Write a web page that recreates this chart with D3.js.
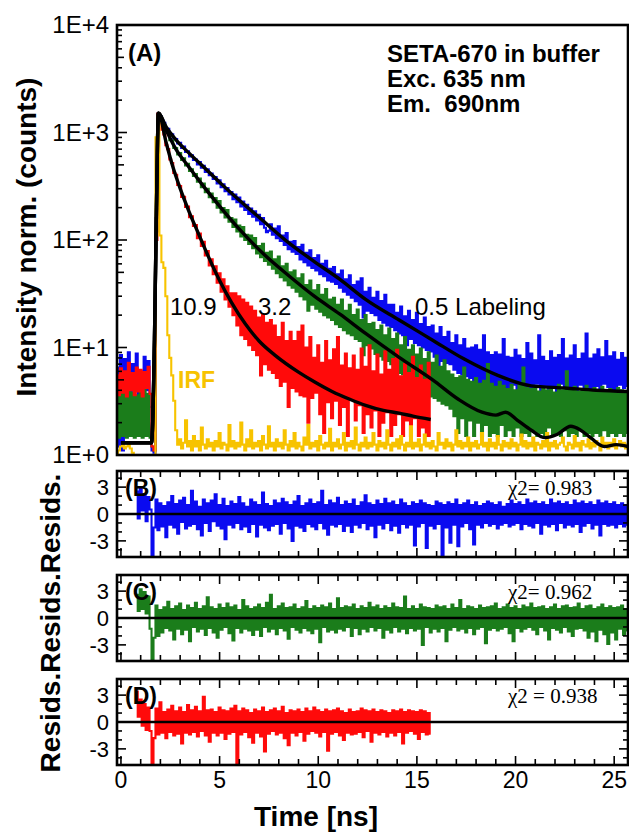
<!DOCTYPE html>
<html><head><meta charset="utf-8">
<script src="https://cdn.jsdelivr.net/npm/d3@7"></script>
<style>
body{margin:0;background:#fff}
svg{display:block}
text{font-family:"Liberation Sans",Arial,Helvetica,sans-serif}
</style>
</head><body>
<svg id="chart" width="629" height="835"></svg>
<script>
// ---------------- DATA ----------------
const channelWidth = 0.1;      // ns per channel
const decayStart = -0.2;       // time of first decay channel (ns)
const residStart = 0.8;        // time of first residual channel (ns)

const blueCounts = [6.5,1.2,8.5,1.1,7.8,5.0,9.0,2.2,7.0,4.5,8.8,3.5,6.0,1.6,8.2,4.0,7.5,2.8,1.1,
1.05,160,1500,
1420,1300,1230,1090,1080,970,960,880,
870,790,800,720,740,660,670,600,615,555,
560,505,530,470,490,430,455,400,415,370,
385,335,360,310,330,285,305,265,280,240,
265,225,248,205,228,190,213,175,196,165,
185,152,172,140,160,130,118,122,140,112,
128,104,134,98,110,90,116,82,96,78,
98,74,86,66,90,62,76,58,80,55,
68,52,72,48,60,46,64,42,54,41,
56,39,48,36,52,33,43,31,47,29,
38,27,41,25,44,19,33,22,36,21,
29,20,33,18,27,17,31,16,25,15.5,
25,14.5,21,13.5,24,13,19.5,10.5,22,12,
18,11,21,10.5,16.5,10,19,9.5,15.5,9.2,
16,8.2,13.5,6.2,15.5,7.5,12.5,7.2,14,7,
11,6.2,13,5.8,10.5,5.6,12,5.4,9.8,5.2,
10,5,10.5,4.6,9.5,4.5,13,4.3,9,4.2,
8.5,4.2,9,3.9,8.6,4.0,12,4.1,8.2,3.8,
8.0,4.5,9.5,4.0,8.4,4.4,7.8,3.9,11,4.2,
8.8,4.1,7.6,4.6,13,4.0,8.2,4.3,7.5,3.8,
9.2,4.2,8.0,1.6,8.5,4.6,12,4.4,7.9,4.0,
8.4,4.3,10.5,3.9,7.8,4.5,8.8,4.1,13.5,4.2,
7.9,4.0,8.6,4.4,9.6,3.9,8.1,4.6,11.5,4.3,
8.3,4.1,9.0,1.5,7.7,4.5,8.9,4.2,8.0,4.4];

const greenCounts = [3.8,1.45,3.9,1.5,3.7,1.45,5.0,1.5,3.8,1.45,3.6,1.5,3.9,1.45,4.8,1.5,3.7,1.45,1.2,
1.1,120,1500,
1410,1220,1180,1010,990,850,840,720,
715,625,645,555,575,495,512,440,455,395,
410,348,372,310,335,278,300,250,270,225,
245,200,230,180,198,162,190,148,160,132,
155,120,136,108,132,100,112,92,110,84,
104,75,88,69,92,64,76,59,78,54,
66,49,70,45,57,42,60,38,50,36,
52,33,44,30,48,28,38,22,42,25,
34,23,38,21.5,31,20,35,19,28,18,
29,16.5,25,15.5,28,14.5,22,13.5,25,13,
20,12,22.5,11.5,18,8.5,20,10.5,16.5,9.8,
17,8.7,14.5,8.3,16,7.7,13,7.5,15,7,
12,6.2,13.5,5.8,10.5,5.6,12.5,5.2,9.5,4.8,
10.5,4.4,8.6,4.1,9.8,3.9,7.8,3.7,9.0,3.5,
7.2,3.4,8.4,3.2,6.6,3.0,7.6,2.9,6.0,2.7,
5.6,2.3,5.2,1.6,5.4,2.2,6.5,1.5,5.0,2.1,
4.8,1.5,5.2,2.0,4.6,1.5,4.9,1.9,7.0,1.5,
4.6,1.6,4.3,1.5,4.8,1.9,4.4,1.5,4.1,1.7,
4.5,1.5,4.0,1.8,4.6,1.5,6.5,1.6,4.2,1.5,
4.1,1.7,4.4,1.5,3.9,1.6,4.3,1.5,4.0,1.8,
4.2,1.5,3.8,1.6,4.5,1.5,4.0,1.7,6.0,1.5,
4.0,1.6,4.3,1.5,3.9,1.7,4.1,1.5,4.4,1.6,
3.9,1.5,4.2,1.6,4.0,1.5,4.3,1.7,3.8,1.5,
4.1,1.6,3.9,1.5,4.2,1.6,4.0,1.5,3.9,1.6];

const redCounts = [5.5,3.6,6.4,3.8,6.0,3.5,7.2,4.0,5.8,3.6,6.5,3.9,6.2,3.5,5.9,4.2,6.6,3.7,1.2,
1.1,100,1500,
1320,1060,960,760,700,560,520,420,
405,325,318,252,252,203,205,163,166,135,
138,104,115,88,96,72,79,58,66,48,
57,40,49,33,43,28,37,24,32,20,
32,16,30,13,28,12,26,10.5,24,9.5,
22,8.5,19,5.5,20,7.0,17,6.2,18,5.8,
16,5.2,12.5,4.4,17,4.8,11.5,2.8,14,4.2,
11.5,3.9,14,3.6,16,3.5,10,2.0,12.5,3.4,
8.0,3.8,10.5,2.4,7.2,1.6,11.5,3.1,7.6,2.2,
9.6,3.2,12.5,1.9,6.8,2.8,8.8,1.5,6.4,3.3,
8.4,2.1,6.2,2.9,9.8,1.6,6.6,2.4,10.5,1.8,
6.0,2.6,8.6,1.5,5.6,2.0,9.2,2.5,6.2,1.5,
7.8,1.9,9.5,2.4,5.4,1.5,7.0,2.1,5.8,1.5,
8.2,2.2,5.2,1.5,6.8,1.8,5.0,1.5,7.2,1.5];

const irfCounts = [0.8,1.1,1.2,1.25,1.15,1.2,1.28,1.15,1.05,0.9,
0.7,0.6,0.6,0.6,0.6,0.6,0.6,0.6,0.6,0.7,
900,1400,110,62,55,30,13,8,5.5,3.2,
1.7,1.25,1.4,1.15,1.3,2.1,1.2,1.35,1.1,1.5,
1.2,1.35,1.1,1.8,1.25,1.15,1.4,1.2,1.3,1.1,
1.35,1.2,1.6,1.15,1.3,1.25,1.1,1.9,1.2,1.35,
1.15,1.3,1.2,2.0,1.25,1.1,1.4,1.2,1.7,1.15,
1.3,1.2,1.35,1.1,1.5,1.25,1.15,1.85,1.2,1.3,
1.1,1.4,1.2,1.3,1.15,1.7,1.25,1.1,1.35,1.2,
1.6,1.15,1.3,1.2,1.1,1.45,1.25,1.9,1.15,1.3,
1.2,1.35,1.1,1.5,1.25,1.15,1.3,1.2,1.75,1.1,
1.3,1.2,1.4,1.15,1.25,1.6,1.1,1.3,1.2,1.35,
1.15,1.8,1.25,1.1,1.3,1.2,1.45,1.15,1.3,1.2,
1.6,1.25,1.1,1.35,1.2,1.3,1.15,1.7,1.25,1.1,
1.3,1.2,1.4,1.15,1.5,1.25,1.1,1.3,1.2,1.85,
1.15,1.3,1.2,1.4,1.1,1.25,1.55,1.2,1.3,1.15,
1.35,1.2,1.1,1.6,1.25,1.3,1.15,1.4,1.2,1.3,
1.1,1.25,1.7,1.2,1.35,1.15,1.3,1.2,1.45,1.1,
1.3,1.2,1.35,1.15,1.25,1.6,1.2,1.3,1.1,1.4,
1.2,1.3,1.15,1.5,1.25,1.1,1.35,1.2,1.3,1.15,
1.4,1.2,1.3,1.1,1.25,1.55,1.2,1.35,1.15,1.3,
1.2,1.45,1.1,1.3,1.25,1.15,1.35,1.2,1.6,1.1,
1.3,1.2,1.35,1.15,1.25,1.3,1.45,1.2,1.1,1.3,
1.25,1.15,1.5,1.2,1.3,1.1,1.35,1.25,1.2,1.4,
1.15,1.3,1.2,1.35,1.25,1.1,1.45,1.2,1.3,1.15,
1.3,1.2,1.4,1.15,1.25,1.35,1.2,1.3,1.15,1.25];

// fitted decays (node times in ns, counts)
const blueFitT = [0.0,0.8,1.55,1.7,1.8,1.9,2.3,2.8,3.44,4.3,5.1,6.0,7.2,8.54,9.8,11.1,12.4,14.1,15.8,17.4,19.1,20.8,22.5,24.1,25.7];
const blueFitV = [1.3,1.3,1.3,12,200,1510,1120,850,646,457,331,234,151,93,63,43,28,18,11.7,7.8,5.5,4.4,4.2,4.0,3.9];
const greenFitT = [0.0,0.8,1.55,1.7,1.8,1.9,2.3,2.8,3.44,4.1,4.8,6.0,7.3,8.54,9.8,11.1,12.4,14.1,15.8,17.1,18.3,19.0,19.5,20.1,20.8,21.5,22.1,22.8,23.3,23.8,24.5,25.1,25.7];
const greenFitV = [1.3,1.3,1.3,12,200,1510,1047,692,479,331,229,126,72,46,30,20.4,13.5,8.1,5.0,3.3,2.5,2.35,2.5,2.1,1.7,1.45,1.55,1.85,1.7,1.45,1.2,1.25,1.2];
const redFitT = [0.0,0.8,1.55,1.7,1.8,1.9,2.3,2.6,3.0,3.44,4.0,4.45,5.0,5.6,6.3,7.0,7.8,9.0,9.8,10.7,11.6,12.4,13.3,14.1,14.8,15.7];
const redFitV = [1.3,1.3,1.3,12,200,1510,794,501,302,186,107,69,42,26.3,16.6,11.5,8.5,5.9,4.8,3.9,3.3,2.9,2.6,2.45,2.3,2.14];

// weighted residuals
const residB = [2.5,-0.5,2.8,0.4,2.2,-0.8,1.9,0.5,-5.5,-1.5,
1.6,-1.8,1.2,-1.4,0.9,-2.6,1.3,-1.2,2.0,-1.5,
1.1,-2.2,1.5,-0.9,1.8,-1.6,1.0,-1.3,2.6,-1.1,
1.4,-1.7,0.8,-2.4,1.6,-1.0,1.2,-1.9,1.5,-0.8,
2.2,-1.3,1.0,-1.6,1.7,-2.8,0.9,-1.2,1.4,-1.5,
1.1,-1.0,1.9,-1.7,1.2,-1.4,0.8,-2.0,1.6,-1.1,
1.3,-2.5,1.0,-1.2,2.4,-1.5,1.1,-1.8,0.9,-1.3,
1.5,-1.1,1.2,-2.2,1.7,-1.0,1.3,-1.6,1.0,-3.0,
1.4,-1.3,2.0,-1.5,0.9,-1.9,1.2,-1.1,1.6,-1.4,
1.1,-1.7,1.3,-1.0,2.6,-1.6,1.0,-2.3,1.5,-1.2,
1.2,-1.4,1.8,-1.1,1.0,-1.9,1.4,-1.3,1.1,-2.0,
1.6,-1.2,0.9,-1.5,1.3,-1.0,2.1,-1.7,1.2,-1.3,
1.0,-2.6,1.5,-1.2,1.1,-1.6,1.7,-1.0,1.2,-1.8,
1.4,-1.3,1.0,-2.1,1.6,-1.1,1.2,-1.5,0.9,-1.2,
1.3,-3.5,1.1,-1.4,1.5,-1.0,1.2,-3.8,1.0,-1.3,
0.9,-1.6,1.4,-1.1,1.2,-5.0,1.0,-1.5,1.3,-3.2,
1.1,-1.2,1.6,-3.6,1.0,-1.4,1.2,-1.0,1.5,-1.7,
1.0,-3.4,1.3,-1.2,0.9,-1.5,1.1,-1.0,1.4,-1.3,
1.2,-1.1,1.0,-1.6,1.3,-1.2,0.8,-1.0,1.1,-1.4,
1.5,-1.2,1.1,-1.0,1.3,-1.7,1.0,-1.1,1.6,-1.3,
1.2,-1.5,1.4,-1.0,1.1,-2.2,1.3,-1.2,1.0,-1.4,
1.6,-1.1,1.2,-1.8,1.4,-1.0,1.1,-1.5,1.3,-1.2,
1.0,-1.4,1.5,-1.1,1.2,-2.0,1.4,-1.3,1.1,-1.0,
1.3,-1.6,1.0,-1.2,1.5,-2.4,1.2,-1.1,1.4,-1.3,
1.1,-1.2,1.3,-1.5,1.0,-1.1,1.2,-1.4,1.0,-1.2];

const residC = [2.6,0.8,3.2,1.0,2.9,0.5,2.4,-1.2,-4.8,-2.2,
1.4,-2.0,0.9,-1.6,1.2,-1.1,1.8,-1.4,1.0,-2.4,
1.3,-1.2,1.6,-1.8,0.9,-1.3,1.4,-2.6,1.1,-1.0,
1.7,-1.5,1.0,-1.2,1.3,-1.9,2.3,-1.1,1.2,-1.6,
1.0,-2.2,1.5,-1.3,1.1,-1.0,1.6,-1.7,1.2,-2.5,
1.4,-1.1,0.9,-1.6,2.0,-1.2,1.3,-1.4,1.0,-1.9,
1.2,-1.3,1.5,-2.0,1.1,-1.0,1.7,-1.5,2.6,-1.2,
1.0,-1.8,1.3,-1.1,1.6,-1.4,1.1,-2.3,1.2,-1.0,
1.5,-1.3,1.0,-1.6,1.2,-1.1,1.9,-1.4,1.0,-1.7,
1.3,-1.2,1.1,-2.7,1.4,-1.0,1.2,-1.5,1.6,-1.3,
1.0,-1.6,2.2,-1.2,1.1,-1.4,1.3,-1.0,1.2,-2.0,
1.5,-1.1,1.0,-1.8,1.3,-1.2,1.1,-1.5,1.7,-1.0,
1.2,-1.4,1.4,-1.1,1.0,-2.2,1.3,-1.3,1.1,-1.6,
1.6,-1.0,1.2,-1.5,1.1,-1.2,2.4,-1.7,1.0,-1.1,
1.3,-1.4,1.0,-1.2,1.5,-3.0,1.2,-1.0,1.1,-1.6,
1.0,-1.2,1.4,-1.5,1.2,-1.1,1.3,-2.6,1.0,-1.3,
1.5,-1.0,1.1,-1.4,2.0,-1.2,1.0,-1.6,1.3,-1.1,
1.2,-1.8,1.0,-1.2,1.4,-1.0,1.1,-2.8,1.2,-1.3,
1.3,-1.1,1.6,-1.4,1.0,-1.2,1.2,-1.0,1.5,-1.7,
1.1,-2.6,1.3,-1.1,1.0,-1.5,1.4,-1.2,1.2,-1.0,
1.6,-1.3,1.1,-1.8,1.2,-1.0,1.3,-1.4,1.0,-2.4,
1.2,-1.1,1.5,-1.3,1.0,-1.6,1.3,-1.0,1.4,-1.5,
1.1,-2.0,1.2,-1.2,1.6,-1.1,1.0,-1.4,1.3,-2.2,
1.4,-1.5,1.0,-2.6,1.2,-1.3,1.5,-1.8,1.1,-2.9,
1.3,-1.6,1.1,-2.4,1.2,-1.2,1.4,-1.9,1.0,-1.4];

const residD = [3.4,0.6,2.5,-0.4,2.0,-0.9,1.6,-1.0,-5.2,-1.8,
1.5,-1.4,2.2,-1.2,1.1,-1.8,1.4,-1.1,1.8,-1.5,
1.2,-1.3,1.6,-2.4,1.1,-1.2,1.9,-1.4,1.3,-1.1,
1.7,-1.6,1.2,-1.0,2.8,-1.5,1.3,-2.2,1.4,-1.2,
1.1,-1.5,1.6,-1.2,1.3,-1.9,1.2,-1.3,1.5,-1.1,
1.8,-4.6,1.2,-1.4,1.5,-1.1,1.3,-1.7,1.0,-2.3,
1.4,-1.2,1.2,-1.6,1.6,-3.3,1.1,-1.3,1.3,-1.0,
1.5,-1.4,1.2,-1.2,1.7,-1.8,1.0,-2.6,1.3,-1.2,
1.2,-1.5,1.4,-1.1,1.1,-2.1,1.5,-1.3,1.2,-1.0,
1.6,-1.2,1.3,-1.6,1.1,-1.1,1.4,-3.2,1.2,-1.3,
1.3,-1.1,1.5,-1.5,1.2,-2.0,1.0,-1.2,1.4,-1.4,
1.1,-1.3,1.2,-1.1,1.5,-1.7,1.3,-1.0,1.2,-2.2,
1.4,-1.2,1.1,-1.4,1.3,-1.1,1.2,-1.6,1.0,-1.2,
1.3,-1.5,1.2,-1.1,1.4,-2.4,1.1,-1.2,1.3,-1.0,
1.2,-1.3,1.1,-1.9,1.3,-1.1,1.2,-1.4,1.0,-1.3];

const decadeLabels = ["1E+0","1E+1","1E+2","1E+3","1E+4"];
const timeTicks = [0,5,10,15,20,25];
const residTicks = [3,0,-3];
const chiLabels = ["\u03c72= 0.983","\u03c72= 0.962","\u03c72 = 0.938"];
const panelLabels = ["(B)","(C)","(D)"];

// ---------------- DRAWING ----------------
const COL = {blue:"#0a0af0", green:"#1b7d1b", red:"#ff0a0a", irf:"#f7c300"};
const svg = d3.select("#chart");
const L = 117, R = 628;
const x = d3.scaleLinear().domain([-0.2, 25.7]).range([L, R]);
const y = d3.scaleLog().domain([1, 1e4]).range([455, 25]);

const toPts = (vals, start) => vals.map((v, i) => ({t: start + i * channelWidth, v}));
const toNodes = (ts, vs) => ts.map((t, i) => ({t, v: vs[i]}));

const defs = svg.append("defs");
defs.append("clipPath").attr("id", "clipMain").append("rect")
  .attr("x", L).attr("y", 25).attr("width", R - L).attr("height", 430);

const main = svg.append("g").attr("clip-path", "url(#clipMain)");
const lineLog = d3.line().x(d => x(d.t)).y(d => y(Math.max(d.v, 0.3))).curve(d3.curveStep);
const fitLine = d3.line().x(d => x(d.t)).y(d => y(d.v)).curve(d3.curveMonotoneX);

[[blueCounts, COL.blue], [greenCounts, COL.green], [redCounts, COL.red], [irfCounts, COL.irf]]
  .forEach(([vals, c]) => {
    main.append("path").datum(toPts(vals, decayStart)).attr("d", lineLog)
      .attr("fill", "none").attr("stroke", c).attr("stroke-width", 2.1);
  });
[[blueFitT, blueFitV], [greenFitT, greenFitV], [redFitT, redFitV]].forEach(([ts, vs]) => {
  main.append("path").datum(toNodes(ts, vs)).attr("d", fitLine)
    .attr("fill", "none").attr("stroke", "#000").attr("stroke-width", 3.4).attr("stroke-linejoin", "round");
});

// main frame + ticks
svg.append("rect").attr("x", L).attr("y", 25).attr("width", R - L).attr("height", 430)
  .attr("fill", "none").attr("stroke", "#000").attr("stroke-width", 2.6);
const gTicks = svg.append("g").attr("stroke", "#000").attr("stroke-width", 1.6);
for (let e = 0; e < 4; e++) {
  for (let k = 1; k < 10; k++) {
    const v = k * Math.pow(10, e);
    const len = k === 1 ? 10 : (k === 5 ? 7 : 5);
    gTicks.append("line").attr("x1", L).attr("x2", L + len).attr("y1", y(v)).attr("y2", y(v));
  }
}
decadeLabels.forEach((lab, i) => {
  svg.append("text").attr("x", 109).attr("y", y(Math.pow(10, i))).attr("dy", "0.35em")
    .attr("text-anchor", "end").attr("font-size", 24).text(lab);
});

// residual panels
const panels = [
  {top: 471, bottom: 557, vals: residB, col: COL.blue},
  {top: 575, bottom: 661, vals: residC, col: COL.green},
  {top: 679, bottom: 765, vals: residD, col: COL.red}
];
panels.forEach((p, i) => {
  const yr = d3.scaleLinear().domain([-4.8, 4.8]).range([p.bottom, p.top]);
  defs.append("clipPath").attr("id", "clipR" + i).append("rect")
    .attr("x", L).attr("y", p.top).attr("width", R - L).attr("height", p.bottom - p.top);
  const g = svg.append("g").attr("clip-path", `url(#clipR${i})`);
  g.append("path").datum(toPts(p.vals, residStart))
    .attr("d", d3.line().x(d => x(d.t)).y(d => yr(d.v)).curve(d3.curveStep))
    .attr("fill", "none").attr("stroke", p.col).attr("stroke-width", 2.1);
  g.append("line").attr("x1", L).attr("x2", R).attr("y1", yr(0)).attr("y2", yr(0))
    .attr("stroke", "#000").attr("stroke-width", 2.6);
  svg.append("rect").attr("x", L).attr("y", p.top).attr("width", R - L).attr("height", p.bottom - p.top)
    .attr("fill", "none").attr("stroke", "#000").attr("stroke-width", 2.6);
  const gt = svg.append("g").attr("stroke", "#000").attr("stroke-width", 1.6);
  for (let t = 0; t <= 25; t++) {
    const len = t % 5 === 0 ? 9 : 6;
    gt.append("line").attr("x1", x(t)).attr("x2", x(t)).attr("y1", p.top).attr("y2", p.top + len);
    gt.append("line").attr("x1", x(t)).attr("x2", x(t)).attr("y1", p.bottom).attr("y2", p.bottom - len);
  }
  for (let r = -4; r <= 4; r++) {
    const len = r % 3 === 0 ? 9 : 5;
    gt.append("line").attr("x1", L).attr("x2", L + len).attr("y1", yr(r)).attr("y2", yr(r));
    gt.append("line").attr("x1", R).attr("x2", R - len).attr("y1", yr(r)).attr("y2", yr(r));
  }
  residTicks.forEach(r => {
    svg.append("text").attr("x", 109).attr("y", yr(r)).attr("dy", "0.35em")
      .attr("text-anchor", "end").attr("font-size", 22).text(r === -3 ? "-3" : String(r));
  });
  svg.append("text").attr("x", 125).attr("y", p.top + 25).attr("font-size", 23)
    .attr("font-weight", "bold").text(panelLabels[i]);
  svg.append("text").attr("x", 508).attr("y", p.top + 24).attr("font-size", 21)
    .style("font-family", "'Liberation Serif','Times New Roman',serif").style("white-space", "pre")
    .text(chiLabels[i]);
});

// x tick labels
timeTicks.forEach(t => {
  svg.append("text").attr("x", x(t)).attr("y", 788).attr("text-anchor", "middle")
    .attr("font-size", 23).text(t);
});

// titles
svg.append("text").attr("x", 316).attr("y", 826).attr("text-anchor", "middle")
  .attr("font-size", 28).attr("font-weight", "bold").text("Time [ns]");
svg.append("text").attr("transform", "translate(36,237) rotate(-90)").attr("text-anchor", "middle")
  .attr("font-size", 28).attr("font-weight", "bold").text("Intensity norm. (counts)");
svg.append("text").attr("transform", "translate(60,623) rotate(-90)").attr("text-anchor", "middle")
  .attr("font-size", 28).attr("font-weight", "bold").text("Resids.Resids.Resids.");

// annotations
svg.append("text").attr("x", 128).attr("y", 61).attr("font-size", 24).attr("font-weight", "bold").text("(A)");
[["SETA-670 in buffer", 62], ["Exc. 635 nm", 87], ["Em.  690nm", 112]].forEach(([s, yy]) => {
  svg.append("text").attr("x", 387).attr("y", yy).attr("font-size", 24).attr("font-weight", "bold")
    .style("white-space", "pre").text(s);
});
[["10.9", 170], ["3.2", 258], ["0.5 Labeling", 415]].forEach(([s, xx]) => {
  svg.append("text").attr("x", xx).attr("y", 315).attr("font-size", 24).text(s);
});
svg.append("text").attr("x", 178).attr("y", 388).attr("font-size", 23).attr("font-weight", "bold")
  .attr("fill", COL.irf).text("IRF");
</script>
</body></html>
